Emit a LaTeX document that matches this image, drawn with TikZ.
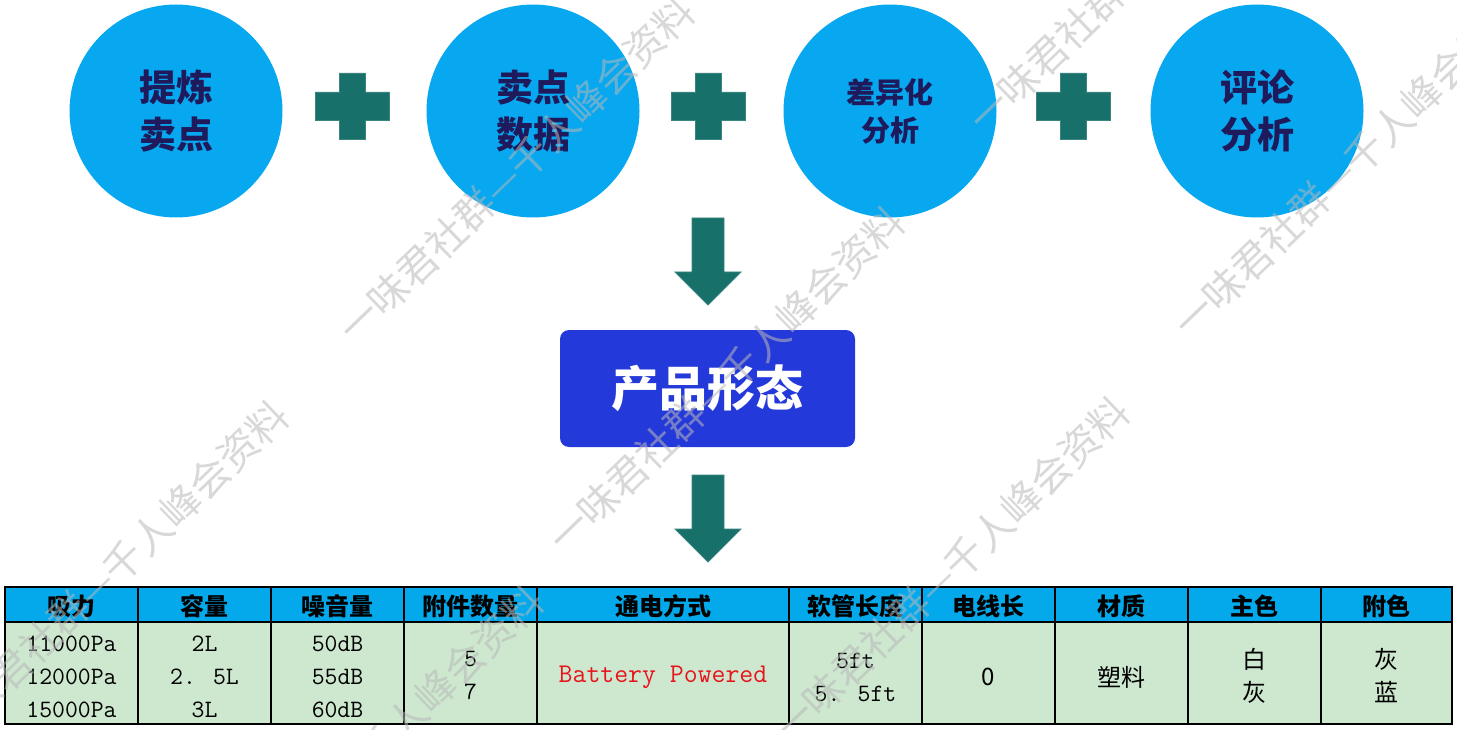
\documentclass[tikz,border=0pt]{standalone}
\usepackage{fontspec}
\newfontfamily\cjk{Noto Sans CJK SC}
\definecolor{circ}{HTML}{08A8F0}
\definecolor{navy}{HTML}{1E1A5C}
\definecolor{tealc}{HTML}{17706A}
\definecolor{boxblue}{HTML}{2439D9}
\definecolor{hdr}{HTML}{04A9EC}
\definecolor{bodyg}{HTML}{CDE8CF}
\definecolor{bred}{HTML}{E8141C}
\definecolor{wmc}{HTML}{B8B8B8}
\tikzset{
  bub/.style={circle, fill=circ, minimum size=213pt, inner sep=0pt, align=center, text=navy,
    font=\cjk\bfseries\fontsize{37}{47}\selectfont},
  pluspic/.pic={\fill[tealc, draw=tealc!85!white, line width=0.8pt]
     (-37,-14) -- (-13,-14) -- (-13,-33) -- (13,-33) -- (13,-14) -- (37,-14) -- (37,14)
     -- (13,14) -- (13,33) -- (-13,33) -- (-13,14) -- (-37,14) -- cycle;},
  downarrow/.pic={\fill[tealc, draw=tealc!85!white, line width=0.8pt]
     (-16,-87) -- (16,-87) -- (16,-33) -- (33,-33) -- (0,0) -- (-33,-33) -- (-16,-33) -- cycle;},
  hdrtxt/.style={font=\cjk\bfseries\fontsize{24}{26}\selectfont, text=black, inner sep=0pt},
  numtxt/.style={font=\ttfamily\fontsize{25}{33}\selectfont, align=center, inner sep=0pt},
  cjktxt/.style={font=\cjk\fontsize{24}{33}\selectfont, align=center, inner sep=0pt},
  wm/.style={font=\cjk\fontsize{40}{40}\selectfont, text=wmc, opacity=0.55, rotate=44, anchor=west, inner sep=0pt},
}
\begin{document}
\begin{tikzpicture}[x=1pt,y=-1pt]
\useasboundingbox (0,0) rectangle (1457,730);
% circles
\node[bub] (c1) at (176,111) {提炼\\卖点};
\node[bub] (c2) at (533,111) {卖点\\数据};
\node[bub, font=\cjk\bfseries\fontsize{29}{38}\selectfont] (c3) at (890,111) {差异化\\分析};
\node[bub] (c4) at (1257,111) {评论\\分析};
% plus signs
\pic at (352,106) {pluspic};
\pic at (708,106) {pluspic};
\pic at (1073,106) {pluspic};
% box
\node[fill=boxblue, rounded corners=9pt, minimum width=295pt, minimum height=117pt, inner sep=0pt,
      text=white, font=\cjk\bfseries\fontsize{48}{50}\selectfont] (pf) at (707.5,388.5) {产品形态};
% arrows
\pic at (708,305) {downarrow};
\pic at (708,562) {downarrow};
% table
\fill[hdr] (5,587) rectangle (1452,622);
\fill[bodyg] (5,622) rectangle (1452,724);
\foreach \x in {138,271,404,537,789,922,1055,1188,1321}
  \draw[line width=2.2pt] (\x,587) -- (\x,724);
\draw[line width=2.2pt] (5,622) -- (1452,622);
\draw[line width=2.6pt] (5,587) rectangle (1452,724);
% header texts
\node[hdrtxt] (h1) at (71.5,606) {吸力};
\node[hdrtxt] (h2) at (204.5,606) {容量};
\node[hdrtxt] (h3) at (337.5,606) {噪音量};
\node[hdrtxt] (h4) at (470.5,606) {附件数量};
\node[hdrtxt] (h5) at (663,606) {通电方式};
\node[hdrtxt] (h6) at (855.5,606) {软管长度};
\node[hdrtxt] (h7) at (988.5,606) {电线长};
\node[hdrtxt] (h8) at (1121.5,606) {材质};
\node[hdrtxt] (h9) at (1254.5,606) {主色};
\node[hdrtxt] (h10) at (1386.5,606) {附色};
% body texts
\node[numtxt] (b1) at (71.5,677) {11000Pa\\12000Pa\\15000Pa};
\node[numtxt] (b2) at (204.5,677) {2L\\2. 5L\\3L};
\node[numtxt] (b3) at (337.5,677) {50dB\\55dB\\60dB};
\node[numtxt] (b4) at (470.5,676) {5\\7};
\node[font=\ttfamily\fontsize{27}{30}\selectfont, text=bred, inner sep=0pt] (b5) at (663,677) {Battery Powered};
\node[numtxt] (b6) at (855.5,677) {5ft\\5. 5ft};
\node[font=\cjk\fontsize{24}{26}\selectfont, inner sep=0pt] (b7) at (988.5,677) {0};
\node[cjktxt] (b8) at (1121.5,677) {塑料};
\node[cjktxt] (b9) at (1254.5,676) {白\\灰};
\node[cjktxt] (b10) at (1386.5,676) {灰\\蓝};
% watermark
\node[wm] (w1) at (345,335) {一味君社群—千人峰会资料};
\node[wm] (w2) at (555,545) {一味君社群—千人峰会资料};
\node[wm] (w3) at (975,125) {一味君社群—千人峰会资料};
\node[wm] (w4) at (1180,330) {一味君社群—千人峰会资料};
\node[wm] (w5) at (780,735) {一味君社群—千人峰会资料};
\node[wm] (w6) at (-61,739) {一味君社群—千人峰会资料};
\node[wm] (w7) at (194,924) {一味君社群—千人峰会资料};
\end{tikzpicture}
\end{document}
